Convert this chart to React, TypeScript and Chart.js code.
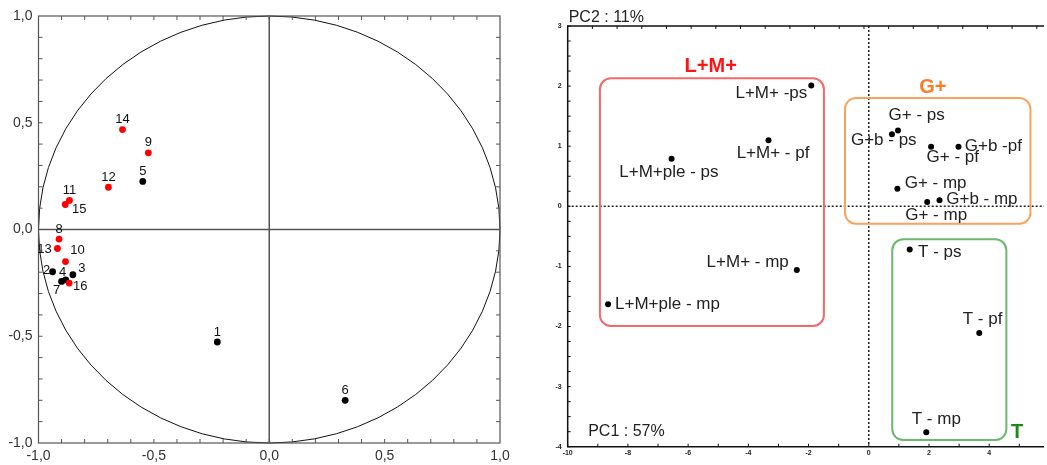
import { useEffect, useRef } from "react";
import { Chart, registerables } from "chart.js";

Chart.register(...registerables);

const FONT = "'Liberation Sans', Arial, sans-serif";

// ---------- Left panel: correlation circle of the variables ----------
const varLabels = ["1", "2", "3", "4", "5", "6", "7", "8", "9", "10", "11", "12", "13", "14", "15", "16"];
const varPC1 = [-0.225, -0.939, -0.851, -0.882, -0.548, 0.329, -0.9, -0.911, -0.524, -0.883, -0.866, -0.697, -0.918, -0.636, -0.884, -0.867];
const varPC2 = [-0.527, -0.198, -0.212, -0.236, 0.225, -0.8, -0.243, -0.045, 0.359, -0.15, 0.136, 0.198, -0.089, 0.468, 0.117, -0.251];
const varIsRed = [false, false, false, false, false, false, false, true, true, true, true, true, true, true, true, true];
const circleAxisMin = -1;
const circleAxisMax = 1;
const circleTickStep = 0.5;
// label placement relative to the marker, in px [dx, dy]
const varLabelOffsets = [
  [0, -10], [-6, -1], [9, -6], [-3, -7], [0, -10], [0, -10], [-5, 9], [0, -10],
  [0, -10], [12, -11], [0, -10], [0, -10], [-13, 1], [0, -10], [14, 5], [11, 3],
];

// ---------- Right panel: scores plot ----------
const sampleNames = [
  "L+M+ -ps", "L+M+ - pf", "L+M+ple - ps", "L+M+ - mp", "L+M+ple - mp",
  "G+ - ps", "G+b - ps", "G+ - pf", "G+b -pf", "G+ - mp", "G+ - mp", "G+b - mp",
  "T - ps", "T - pf", "T - mp",
];
const samplePC1 = [-1.91, -3.33, -6.55, -2.39, -8.66, 0.97, 0.77, 2.07, 2.98, 0.95, 1.94, 2.35, 1.36, 3.67, 1.91];
const samplePC2 = [2.01, 1.1, 0.79, -1.06, -1.63, 1.26, 1.2, 0.99, 0.99, 0.29, 0.07, 0.1, -0.72, -2.11, -3.76];
// label placement [align, dx, dy] in px
const sampleLabelPlacement: [CanvasTextAlign, number, number][] = [
  ["right", -4, 8], ["center", 4.5, 12.7], ["center", -2.7, 13.7], ["right", -8, -8], ["left", 7, 0],
  ["center", 18.7, -15.7], ["center", -8.2, 6], ["center", 21.7, 10.7], ["left", 6.3, -0.7], ["left", 7.3, -6],
  ["center", 9, 13], ["left", 6.7, -1], ["left", 8.3, 3], ["center", 3.3, -13.3], ["center", 10, -13.3],
];
const pc1Min = -10;
const pc1Max = 5.82;
const pc2Min = -4;
const pc2Max = 3;
const pc1Label = "PC1 : 57%";
const pc2Label = "PC2 : 11%";

const groupNames = ["L+M+", "G+", "T"];
const groupMinPC1 = [-8.93, -0.79, 0.78];
const groupMaxPC1 = [-1.49, 5.37, 4.57];
const groupMinPC2 = [-1.99, -0.29, -3.89];
const groupMaxPC2 = [2.13, 1.8, -0.55];
const groupTitlePC1 = [-5.25, 2.13, 4.93];
const groupTitlePC2 = [2.32, 1.98, -3.76];
const groupBoxColors = ["#f26a6a", "#f8a35e", "#6cb86c"];
const groupTitleColors = ["#ff1414", "#ff7a22", "#178a17"];

const fmtComma = (v: number) => (Math.abs(v) < 1e-9 ? 0 : v).toFixed(1).replace(".", ",");

const leftDecor = {
  id: "leftDecor",
  beforeDatasetsDraw(chart: any) {
    const { ctx, chartArea: a, scales } = chart;
    const x = scales.x;
    const y = scales.y;
    ctx.save();
    // unit circle
    const cx = x.getPixelForValue(0);
    const cy = y.getPixelForValue(0);
    const rx = x.getPixelForValue(1) - cx;
    const ry = cy - y.getPixelForValue(1);
    ctx.beginPath();
    ctx.ellipse(cx, cy, rx, ry, 0, 0, Math.PI * 2);
    ctx.strokeStyle = "#111";
    ctx.lineWidth = 1;
    ctx.stroke();
    // axes through origin
    ctx.strokeStyle = "#555";
    ctx.lineWidth = 1.5;
    ctx.beginPath();
    ctx.moveTo(a.left, cy);
    ctx.lineTo(a.right, cy);
    ctx.moveTo(cx, a.top);
    ctx.lineTo(cx, a.bottom);
    ctx.stroke();
    // frame
    ctx.lineWidth = 1.2;
    ctx.strokeStyle = "#555";
    ctx.strokeRect(a.left, a.top, a.right - a.left, a.bottom - a.top);
    // inner tick marks every 0.1
    ctx.lineWidth = 1;
    ctx.beginPath();
    for (let i = 1; i < 20; i++) {
      const v = -1 + i * 0.1;
      const py = y.getPixelForValue(v);
      const px = x.getPixelForValue(v);
      ctx.moveTo(a.left, py); ctx.lineTo(a.left + 4, py);
      ctx.moveTo(a.right, py); ctx.lineTo(a.right - 4, py);
      ctx.moveTo(px, a.top); ctx.lineTo(px, a.top + 4);
      ctx.moveTo(px, a.bottom); ctx.lineTo(px, a.bottom - 4);
    }
    ctx.stroke();
    ctx.restore();
  },
  afterDatasetsDraw(chart: any) {
    const { ctx } = chart;
    const meta = chart.getDatasetMeta(0);
    ctx.save();
    ctx.font = `13px ${FONT}`;
    ctx.fillStyle = "#111";
    ctx.textAlign = "center";
    ctx.textBaseline = "middle";
    meta.data.forEach((pt: any, i: number) => {
      const [dx, dy] = varLabelOffsets[i];
      ctx.fillText(varLabels[i], pt.x + dx, pt.y + dy);
    });
    ctx.restore();
  },
};

const rightDecor = {
  id: "rightDecor",
  beforeDatasetsDraw(chart: any) {
    const { ctx, chartArea: a, scales } = chart;
    const x = scales.x;
    const y = scales.y;
    ctx.save();
    // frame: left, top, bottom
    ctx.strokeStyle = "#111";
    ctx.lineWidth = 1.5;
    ctx.beginPath();
    ctx.moveTo(a.right, a.top);
    ctx.lineTo(a.left, a.top);
    ctx.lineTo(a.left, a.bottom);
    ctx.lineTo(a.right, a.bottom);
    ctx.stroke();
    // tick marks
    ctx.lineWidth = 1;
    ctx.beginPath();
    for (let v = pc2Min; v <= pc2Max + 1e-9; v += 0.25) {
      const py = y.getPixelForValue(v);
      ctx.moveTo(a.left, py); ctx.lineTo(a.left + 3, py);
    }
    for (let v = pc1Min; v <= pc1Max; v += 1) {
      const px = x.getPixelForValue(v);
      ctx.moveTo(px, a.bottom); ctx.lineTo(px, a.bottom - 3);
    }
    for (let v = pc1Min + 0.82; v <= pc1Max; v += 0.82) {
      const px = x.getPixelForValue(v);
      ctx.moveTo(px, a.top); ctx.lineTo(px, a.top + 3);
    }
    ctx.stroke();
    // dotted zero lines
    const cx = x.getPixelForValue(0);
    const cy = y.getPixelForValue(0);
    ctx.setLineDash([2, 2]);
    ctx.lineWidth = 1.5;
    ctx.strokeStyle = "#222";
    ctx.beginPath();
    ctx.moveTo(a.left, cy); ctx.lineTo(a.right, cy);
    ctx.moveTo(cx, a.top); ctx.lineTo(cx, a.bottom);
    ctx.stroke();
    ctx.setLineDash([]);
    // group boxes
    groupNames.forEach((name, i) => {
      const x0 = x.getPixelForValue(groupMinPC1[i]);
      const x1 = x.getPixelForValue(groupMaxPC1[i]);
      const y0 = y.getPixelForValue(groupMaxPC2[i]);
      const y1 = y.getPixelForValue(groupMinPC2[i]);
      ctx.beginPath();
      ctx.roundRect(x0, y0, x1 - x0, y1 - y0, 11);
      ctx.strokeStyle = groupBoxColors[i];
      ctx.lineWidth = 2;
      ctx.stroke();
      ctx.font = `bold 20px ${FONT}`;
      ctx.fillStyle = groupTitleColors[i];
      ctx.textAlign = "center";
      ctx.textBaseline = "middle";
      ctx.fillText(name, x.getPixelForValue(groupTitlePC1[i]), y.getPixelForValue(groupTitlePC2[i]));
    });
    // axis captions
    ctx.font = `16px ${FONT}`;
    ctx.fillStyle = "#222";
    ctx.textAlign = "left";
    ctx.textBaseline = "middle";
    ctx.fillText(pc2Label, a.left + 1, a.top - 8);
    ctx.fillText(pc1Label, a.left + 20.5, a.bottom - 15);
    ctx.restore();
  },
  afterDatasetsDraw(chart: any) {
    const { ctx } = chart;
    const meta = chart.getDatasetMeta(0);
    ctx.save();
    ctx.font = `17px ${FONT}`;
    ctx.fillStyle = "#222";
    ctx.textBaseline = "middle";
    meta.data.forEach((pt: any, i: number) => {
      const [align, dx, dy] = sampleLabelPlacement[i];
      ctx.textAlign = align;
      ctx.fillText(sampleNames[i], pt.x + dx, pt.y + dy);
    });
    ctx.restore();
  },
};

export default function App() {
  const leftRef = useRef<HTMLCanvasElement>(null);
  const rightRef = useRef<HTMLCanvasElement>(null);

  useEffect(() => {
    const left = new Chart(leftRef.current as HTMLCanvasElement, {
      type: "scatter",
      data: {
        datasets: [
          {
            data: varPC1.map((v, i) => ({ x: v, y: varPC2[i] })),
            backgroundColor: varIsRed.map((r) => (r ? "#ff0000" : "#000000")),
            borderWidth: 0,
            pointRadius: 3.4,
            pointHoverRadius: 3.4,
          },
        ],
      },
      options: {
        responsive: false,
        animation: false,
        events: [],
        layout: { padding: { top: 16, right: 40, left: 0, bottom: 0 } },
        plugins: { legend: { display: false }, tooltip: { enabled: false } },
        scales: {
          x: {
            type: "linear",
            min: circleAxisMin,
            max: circleAxisMax,
            grid: { display: false, drawTicks: false },
            border: { display: false },
            ticks: {
              stepSize: circleTickStep,
              padding: 5,
              color: "#333",
              font: { family: FONT, size: 14 },
              maxRotation: 0,
              autoSkip: false,
              callback: (v: any) => fmtComma(Number(v)),
            },
            afterFit: (s: any) => { s.height = 22; },
          },
          y: {
            type: "linear",
            min: circleAxisMin,
            max: circleAxisMax,
            grid: { display: false, drawTicks: false },
            border: { display: false },
            ticks: {
              stepSize: circleTickStep,
              padding: 6,
              color: "#333",
              font: { family: FONT, size: 14 },
              autoSkip: false,
              callback: (v: any) => fmtComma(Number(v)),
            },
            afterFit: (s: any) => { s.width = 38.5; },
          },
        },
      },
      plugins: [leftDecor],
    } as any);

    const right = new Chart(rightRef.current as HTMLCanvasElement, {
      type: "scatter",
      data: {
        datasets: [
          {
            data: samplePC1.map((v, i) => ({ x: v, y: samplePC2[i] })),
            backgroundColor: "#000000",
            borderWidth: 0,
            pointRadius: 3,
            pointHoverRadius: 3,
          },
        ],
      },
      options: {
        responsive: false,
        animation: false,
        events: [],
        layout: { padding: { top: 26, right: 0, left: 0, bottom: 0 } },
        plugins: { legend: { display: false }, tooltip: { enabled: false } },
        scales: {
          x: {
            type: "linear",
            min: pc1Min,
            max: pc1Max,
            grid: { display: false, drawTicks: false },
            border: { display: false },
            ticks: {
              stepSize: 2,
              includeBounds: false,
              padding: 2,
              color: "#222",
              font: { family: FONT, size: 7, weight: "bold" },
              maxRotation: 0,
              autoSkip: false,
            },
            afterFit: (s: any) => { s.height = 18.3; },
          },
          y: {
            type: "linear",
            min: pc2Min,
            max: pc2Max,
            grid: { display: false, drawTicks: false },
            border: { display: false },
            ticks: {
              stepSize: 1,
              padding: 6,
              color: "#222",
              font: { family: FONT, size: 7, weight: "bold" },
              autoSkip: false,
            },
            afterFit: (s: any) => { s.width = 27.7; },
          },
        },
      },
      plugins: [rightDecor],
    } as any);

    return () => {
      left.destroy();
      right.destroy();
    };
  }, []);

  return (
    <div style={{ position: "absolute", left: 0, top: 0, width: 1047, height: 465, background: "#fff", overflow: "hidden" }}>
      <canvas ref={leftRef} width={540} height={465} style={{ position: "absolute", left: 0, top: 0, width: 540, height: 465 }} />
      <canvas ref={rightRef} width={507} height={465} style={{ position: "absolute", left: 540, top: 0, width: 507, height: 465 }} />
    </div>
  );
}
